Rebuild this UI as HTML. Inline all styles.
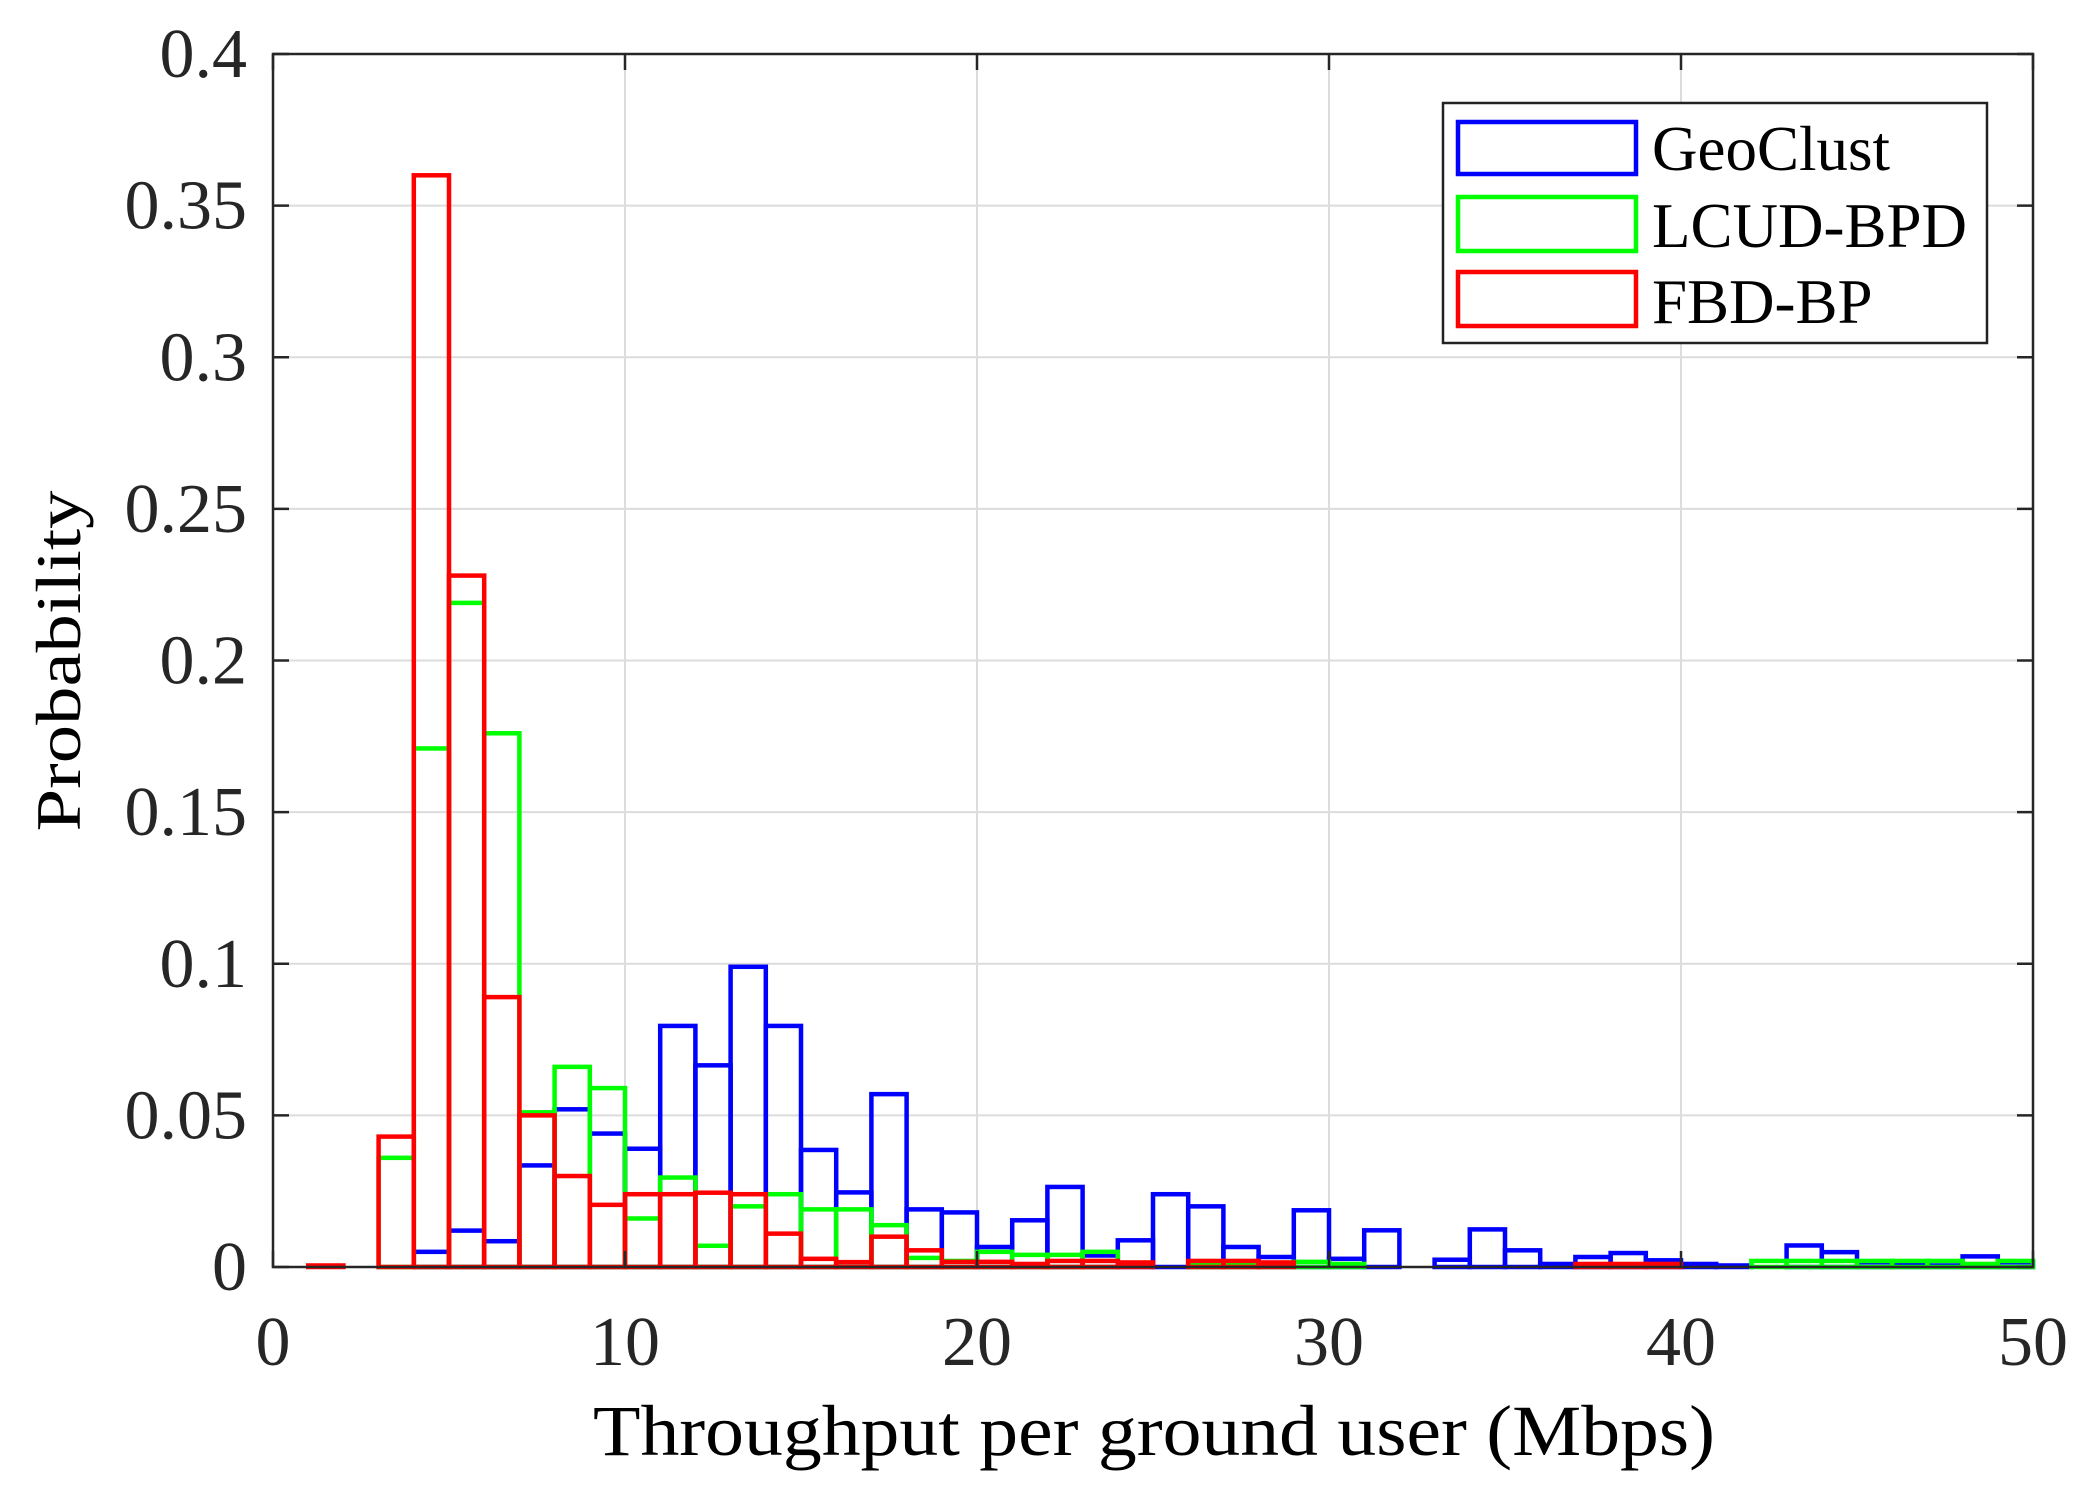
<!DOCTYPE html>
<html><head><meta charset="utf-8"><style>
html,body{margin:0;padding:0;background:#fff;}
svg{display:block;font-family:"Liberation Serif",serif;}
</style></head><body>
<svg id="chart" width="2095" height="1507" viewBox="0 0 2095 1507" xmlns="http://www.w3.org/2000/svg">
<rect x="0" y="0" width="2095" height="1507" fill="#fff"/>
<g id="grid"></g>
<g id="bars"></g>
<g id="axes"></g>
<text x="1154" y="1455" font-size="72" text-anchor="middle" textLength="1122" lengthAdjust="spacingAndGlyphs">Throughput per ground user (Mbps)</text>
<text transform="translate(80,661) rotate(-90)" font-size="64" text-anchor="middle" textLength="341" lengthAdjust="spacingAndGlyphs">Probability</text>
<g>
<rect x="1443" y="103" width="544" height="240" fill="#fff" stroke="#222" stroke-width="2.5"/>
<g>
<rect x="1458" y="122" width="178" height="52" fill="none" stroke="#0000ff" stroke-width="4.5"/>
<text x="1652" y="170" font-size="63">GeoClust</text></g>
<g>
<rect x="1458" y="197" width="178" height="54" fill="none" stroke="#00ff00" stroke-width="4.5"/>
<text x="1652" y="247" font-size="63">LCUD-BPD</text></g>
<g>
<rect x="1458" y="272" width="178" height="54" fill="none" stroke="#ff0000" stroke-width="4.5"/>
<text x="1652" y="323" font-size="63">FBD-BP</text></g>
</g>
</svg>
<script>
const binEdgesStart = 0;
const binWidth = 1;
const geoClust = [0,0,0,0,0.005,0.012,0.0085,0.0335,0.052,0.044,0.039,0.0795,0.0665,0.099,0.0795,0.0386,0.0246,0.057,0.019,0.018,0.0066,0.0154,0.0264,0.0038,0.0088,0.024,0.020,0.0066,0.0033,0.0187,0.0027,0.0121,0,0.0024,0.0124,0.0055,0.001,0.0033,0.0046,0.0022,0.001,0.0005,0,0.0071,0.0049,0.0016,0.001,0.0005,0.0035,0.0016];
const lcudBpd = [0,0,0,0.036,0.171,0.219,0.176,0.051,0.066,0.059,0.016,0.0295,0.007,0.020,0.024,0.019,0.019,0.0138,0.003,0.002,0.005,0.004,0.004,0.005,0,0,0.001,0.001,0.001,0.0017,0.001,0,0,0,0,0,0,0,0,0,0,0,0.002,0.002,0.002,0.002,0.002,0.002,0.001,0.002];
const fbdBp = [0,0.0005,0,0.043,0.36,0.228,0.089,0.050,0.030,0.0205,0.024,0.024,0.0245,0.024,0.011,0.0027,0.0016,0.010,0.0055,0.0017,0.0017,0.001,0.002,0.002,0.0015,0,0.002,0.002,0.0015,0,0,0,0,0,0,0,0,0.001,0.001,0.001,0,0,0,0,0,0,0,0,0,0];
const xTicks = [0,10,20,30,40,50];
const yTicks = [0,0.05,0.1,0.15,0.2,0.25,0.3,0.35,0.4];
const yTickLabels = ["0","0.05","0.1","0.15","0.2","0.25","0.3","0.35","0.4"];

const L=273,R=2033,T=54,B=1267;
const xMin=0,xMax=50,yMin=0,yMax=0.4;
function xs(v){return L+(v-xMin)/(xMax-xMin)*(R-L);}
function ys(v){return B-(v-yMin)/(yMax-yMin)*(B-T);}
const NS="http://www.w3.org/2000/svg";
function mk(tag,attrs,parent){const e=document.createElementNS(NS,tag);for(const k in attrs)e.setAttribute(k,attrs[k]);parent.appendChild(e);return e;}
const grid=document.getElementById('grid'),bars=document.getElementById('bars'),axes=document.getElementById('axes');
xTicks.forEach(t=>{
  const g=mk('line',{x1:xs(t),x2:xs(t),y1:T,y2:B,stroke:'#dcdcdc','stroke-width':2},grid);
  
  
});
yTicks.forEach(t=>{
  const g=mk('line',{x1:L,x2:R,y1:ys(t),y2:ys(t),stroke:'#dcdcdc','stroke-width':2},grid);
  
  
});
function drawSeries(vals,color,name){
  const grp=mk('g',{},bars);
  
  
  vals.forEach((v,i)=>{
    const x0=xs(binEdgesStart+i*binWidth),x1=xs(binEdgesStart+(i+1)*binWidth);
    const r=mk('rect',{x:x0,y:ys(v),width:x1-x0,height:Math.max(0,ys(0)-ys(v)),fill:'none',stroke:color,'stroke-width':4.5},grp);
    
    
  });
}
drawSeries(geoClust,'#0000ff','geoclust');
drawSeries(lcudBpd,'#00ff00','lcud-bpd');
drawSeries(fbdBp,'#ff0000','fbd-bp');
const frame=mk('rect',{x:L,y:T,width:R-L,height:B-T,fill:'none',stroke:'#262626','stroke-width':2.5},axes);


xTicks.forEach(t=>{
  mk('line',{x1:xs(t),x2:xs(t),y1:B,y2:B-16,stroke:'#262626','stroke-width':2.5},axes);
  mk('line',{x1:xs(t),x2:xs(t),y1:T,y2:T+16,stroke:'#262626','stroke-width':2.5},axes);
  const lb=mk('text',{x:xs(t),y:1365,'font-size':70,'text-anchor':'middle',fill:'#262626'},axes);
  lb.textContent=String(t);
  
  
});
yTicks.forEach((t,i)=>{
  mk('line',{x1:L,x2:L+16,y1:ys(t),y2:ys(t),stroke:'#262626','stroke-width':2.5},axes);
  mk('line',{x1:R,x2:R-16,y1:ys(t),y2:ys(t),stroke:'#262626','stroke-width':2.5},axes);
  const lb=mk('text',{x:247,y:ys(t)+23,'font-size':70,'text-anchor':'end',fill:'#262626'},axes);
  lb.textContent=yTickLabels[i];
  
  
});
</script>
</body></html>
